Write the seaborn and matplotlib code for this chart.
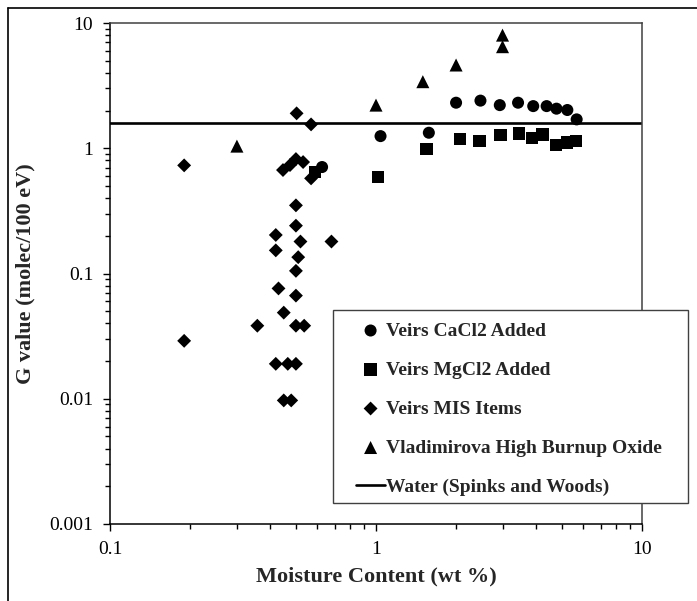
import matplotlib
matplotlib.use("Agg")
import matplotlib.pyplot as plt
from matplotlib.lines import Line2D
import seaborn as sns

# Data
ca_x = [0.627, 1.04, 1.58, 2.0, 2.47, 2.92, 3.42, 3.90, 4.38, 4.77, 5.24, 5.68]
ca_y = [0.708, 1.25, 1.33, 2.31, 2.40, 2.21, 2.31, 2.17, 2.17, 2.07, 2.02, 1.70]

mg_x = [0.59, 1.02, 1.55, 2.07, 2.45, 2.94, 3.45, 3.87, 4.23, 4.75, 5.21, 5.65]
mg_y = [0.645, 0.593, 0.98, 1.18, 1.14, 1.28, 1.31, 1.21, 1.29, 1.06, 1.11, 1.14]

mis_x = [0.19, 0.19, 0.503, 0.57, 0.447, 0.475, 0.50, 0.532, 0.57, 0.50,
         0.50, 0.42, 0.52, 0.68, 0.42, 0.51, 0.50, 0.43, 0.50, 0.45,
         0.358, 0.50, 0.537, 0.42, 0.466, 0.50, 0.45, 0.48]
mis_y = [0.73, 0.029, 1.90, 1.55, 0.67, 0.734, 0.82, 0.776, 0.575, 0.35,
         0.241, 0.203, 0.18, 0.18, 0.153, 0.135, 0.105, 0.076, 0.0666, 0.0487,
         0.0383, 0.0383, 0.0383, 0.019, 0.019, 0.019, 0.0097, 0.0097]

vlad_x = [0.30, 1.0, 1.50, 2.0, 2.99, 2.99]
vlad_y = [1.04, 2.21, 3.40, 4.62, 6.47, 8.0]

water_g = 1.6

x_ticks = [0.1, 1, 10]
x_tick_labels = ["0.1", "1", "10"]
y_ticks = [0.001, 0.01, 0.1, 1, 10]
y_tick_labels = ["0.001", "0.01", "0.1", "1", "10"]

sns.set_style("ticks")
plt.rcParams['font.family'] = ['Liberation Serif', 'DejaVu Serif']

fig = plt.figure(figsize=(6.97, 6.01), dpi=100)
ax = fig.add_axes([110 / 697, 1 - 524 / 601, 532 / 697, 501 / 601])

sns.scatterplot(x=ca_x, y=ca_y, ax=ax, marker='o', s=75, color='black',
                edgecolor='none', label='Veirs CaCl2 Added', zorder=3)
sns.scatterplot(x=mg_x, y=mg_y, ax=ax, marker='s', s=78, color='black',
                edgecolor='none', label='Veirs MgCl2 Added', zorder=2)
sns.scatterplot(x=mis_x, y=mis_y, ax=ax, marker='D', s=50, color='black',
                edgecolor='none', label='Veirs MIS Items', zorder=3)
sns.scatterplot(x=vlad_x, y=vlad_y, ax=ax, marker='^', s=88, color='black',
                edgecolor='none', label='Vladimirova High Burnup Oxide', zorder=3)
ax.axhline(water_g, color='black', linewidth=1.9, label='Water (Spinks and Woods)', zorder=2)

ax.set_xscale('log')
ax.set_yscale('log')
ax.set_xlim(0.1, 10)
ax.set_ylim(0.001, 10)
ax.set_xticks(x_ticks, labels=x_tick_labels)
ax.set_yticks(y_ticks, labels=y_tick_labels)

ax.tick_params(axis='both', which='major', direction='out', length=5, width=1.0,
               color='black', labelsize=14, pad=7, labelcolor='black')
ax.tick_params(axis='both', which='minor', direction='out', length=3.5, width=1.0,
               color='black')

for side in ['left', 'bottom']:
    ax.spines[side].set_color('black')
    ax.spines[side].set_linewidth(1.1)
for side in ['top', 'right']:
    ax.spines[side].set_visible(True)
    ax.spines[side].set_color('#404040')
    ax.spines[side].set_linewidth(1.1)

ax.set_xlabel('Moisture Content (wt %)', fontsize=16, fontweight='bold', labelpad=6)
ax.set_ylabel('G value (molec/100 eV)', fontsize=16, fontweight='bold', labelpad=10)

# legend, box drawn separately so the padding matches
handles, labels = ax.get_legend_handles_labels()
ax.get_legend().remove()
leg = fig.legend(handles, labels, loc='upper left',
                 bbox_to_anchor=(356 / 697, 1 - 322 / 601),
                 frameon=False, borderpad=0, borderaxespad=0,
                 handlelength=1.5, handletextpad=0.05, labelspacing=1.1,
                 prop={'family': 'Liberation Serif', 'weight': 'bold', 'size': 14})
fig.add_artist(plt.Rectangle((333 / 697, 1 - 503 / 601), 355 / 697, 193 / 601,
                             transform=fig.transFigure, fill=True, facecolor='white',
                             edgecolor='#404040', linewidth=1.0, zorder=4))
leg.set_zorder(5)

# outer frame of the original picture
fig.add_artist(Line2D([8 / 697, 8 / 697], [0, 1 - 8 / 601], transform=fig.transFigure,
                      color='black', linewidth=1.2))
fig.add_artist(Line2D([8 / 697, 1], [1 - 8 / 601, 1 - 8 / 601], transform=fig.transFigure,
                      color='black', linewidth=1.2))

fig.savefig('out.png', dpi=100)
